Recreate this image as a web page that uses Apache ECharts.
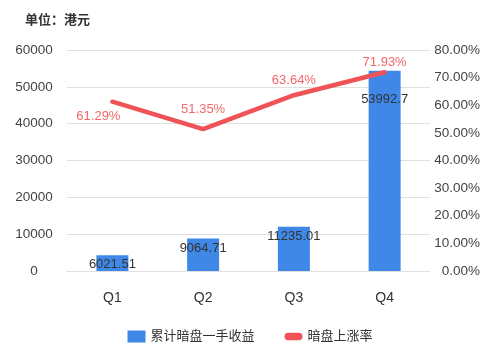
<!DOCTYPE html>
<html>
<head>
<meta charset="utf-8">
<script src="https://cdn.jsdelivr.net/npm/echarts@6/dist/echarts.min.js"></script>
<style>
  html, body { margin: 0; padding: 0; background: #fff; }
  #chart { width: 500px; height: 351px; }
</style>
</head>
<body>
<div id="chart"></div>
<script>
var quarters = ['Q1', 'Q2', 'Q3', 'Q4'];
// 柱高按图读取，标签为图上文字
var barValues = [4300, 8830, 12000, 54400];
var barLabels = ['6021.51', '9064.71', '11235.01', '53992.7'];
var riseRates = [61.29, 51.35, 63.64, 71.93];
var leftTicks = [0, 10000, 20000, 30000, 40000, 50000, 60000];

var FONT = '"Liberation Sans", "Noto Sans CJK SC", sans-serif';
var chart = echarts.init(document.getElementById('chart'));

var barData = barValues.map(function (v, i) {
  var item = { value: v, label: { formatter: barLabels[i] } };
  if (i === 3) item.label.offset = [0, 17];
  return item;
});

// 各点标签位置微调
var lineLabelTweaks = [
  { position: 'bottom', offset: [-14, 0] },
  { distance: 13 },
  { distance: 8 },
  { distance: 3 }
];
var lineData = riseRates.map(function (v, i) {
  return { value: v, label: lineLabelTweaks[i] };
});

chart.setOption({
  animation: false,
  textStyle: { fontFamily: FONT },
  title: {
    text: '单位：港元',
    left: 20,
    top: 9,
    textStyle: { fontSize: 13, fontWeight: 'bold', color: '#333', fontFamily: FONT }
  },
  legend: {
    bottom: 3,
    left: 'center',
    itemWidth: 18,
    itemHeight: 12,
    itemGap: 30,
    textStyle: { fontSize: 13, color: '#333' },
    data: [
      { name: '累计暗盘一手收益', icon: 'rect' },
      { name: '暗盘上涨率', icon: 'path://M3.5,0 H13.5 A3.5,3.5 0 0 1 13.5,7 H3.5 A3.5,3.5 0 0 1 3.5,0 Z' }
    ]
  },
  grid: { left: 67, right: 70, top: 50, bottom: 80 },
  xAxis: {
    type: 'category',
    data: quarters,
    axisLine: { lineStyle: { color: '#e0e0e0' } },
    axisTick: { show: false },
    axisLabel: { color: '#333', fontSize: 14, margin: 20 }
  },
  yAxis: [
    {
      type: 'value',
      min: leftTicks[0],
      max: leftTicks[leftTicks.length - 1],
      interval: 10000,
      axisLine: { show: false },
      axisTick: { show: false },
      splitLine: { lineStyle: { color: '#e0e0e0' } },
      axisLabel: {
        color: '#444', fontSize: 13.5, align: 'center', margin: 33,
        formatter: function (v) { return String(v); }
      }
    },
    {
      type: 'value',
      min: 0,
      max: 80,
      interval: 10,
      axisLine: { show: false },
      axisTick: { show: false },
      splitLine: { show: false },
      axisLabel: {
        color: '#444', fontSize: 13.5, align: 'right', margin: 50,
        formatter: function (v) { return v.toFixed(2) + '%'; }
      }
    }
  ],
  series: [
    {
      name: '累计暗盘一手收益',
      type: 'bar',
      barWidth: 32,
      itemStyle: { color: '#3f88e8' },
      label: {
        show: true,
        position: 'insideTop',
        offset: [0, -2],
        color: '#333',
        fontSize: 13
      },
      data: barData
    },
    {
      name: '暗盘上涨率',
      type: 'line',
      yAxisIndex: 1,
      symbol: 'circle',
      symbolSize: 0.1,
      showSymbol: true,
      lineStyle: { color: '#ef5357', width: 4.5, cap: 'round' },
      itemStyle: { color: '#ef5357' },
      label: {
        show: true,
        position: 'top',
        distance: 8,
        color: '#f2676a',
        fontSize: 13,
        formatter: function (p) { return p.value.toFixed(2) + '%'; }
      },
      data: lineData
    }
  ]
});
</script>
</body>
</html>
